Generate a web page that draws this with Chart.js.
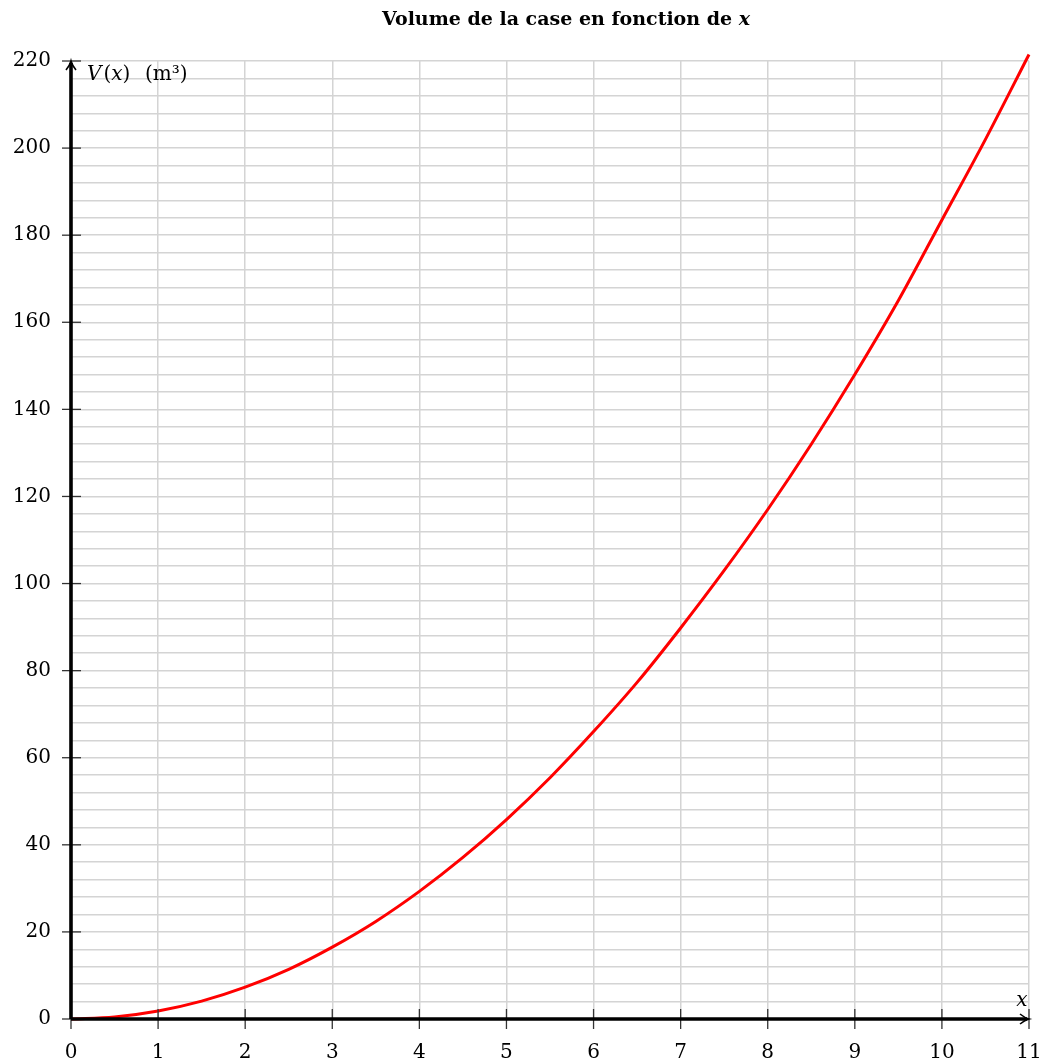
<!DOCTYPE html>
<html>
<head>
<meta charset="utf-8">
<script src="https://cdn.jsdelivr.net/npm/chart.js@4/dist/chart.umd.min.js"></script>
<style>
html,body{margin:0;padding:0;background:#fff;}
#wrap{width:1041px;height:1061px;position:relative;}
</style>
</head>
<body>
<div id="wrap"><canvas id="c" width="1041" height="1061"></canvas></div>
<script>
const xValues = [0, 0.5, 1, 1.5, 2, 2.5, 3, 3.5, 4, 4.5, 5, 5.5, 6, 6.5, 7, 7.5, 8, 8.5, 9, 9.5, 10, 10.5, 11];
const vValues = [0, 0.46, 1.83, 4.1, 7.3, 11.4, 16.5, 22.4, 29.3, 37.1, 45.8, 55.4, 66, 77.3, 89.8, 103, 117, 132, 148, 165, 183.5, 202, 221.5];
const xTicks = [0, 1, 2, 3, 4, 5, 6, 7, 8, 9, 10, 11];
const yTicks = [0, 20, 40, 60, 80, 100, 120, 140, 160, 180, 200, 220];
const titleText = "Volume de la case en fonction de ";
const titleVar = "x";
const yAxisVar = "V";
const yAxisArg = "(x)";
const yUnit = "(m³)";
const xAxisLabel = "x";

const SERIF = '"DejaVu Serif", "Liberation Serif", serif';

const axesPlugin = {
  id: 'axesPlugin',
  afterDatasetsDraw(chart) {
    const ctx = chart.ctx;
    const xs = chart.scales.x, ys = chart.scales.y;
    const x0 = xs.getPixelForValue(0), y0 = ys.getPixelForValue(0);
    const xEnd = xs.getPixelForValue(11), yEnd = ys.getPixelForValue(220);
    ctx.save();
    ctx.fillStyle = '#000';
    // tick marks
    ctx.lineWidth = 1.3;
    ctx.strokeStyle = '#333';
    xTicks.forEach(v => {
      const p = xs.getPixelForValue(v);
      ctx.beginPath(); ctx.moveTo(p, y0 - 10); ctx.lineTo(p, y0 + 10); ctx.stroke();
    });
    yTicks.forEach(v => {
      const p = ys.getPixelForValue(v);
      ctx.beginPath(); ctx.moveTo(x0 - 9, p); ctx.lineTo(x0 + 10, p); ctx.stroke();
    });
    // axes
    ctx.strokeStyle = '#000';
    ctx.lineWidth = 3.6;
    ctx.beginPath(); ctx.moveTo(x0, y0); ctx.lineTo(xEnd - 2, y0); ctx.stroke();
    ctx.beginPath(); ctx.moveTo(x0, y0); ctx.lineTo(x0, yEnd + 2); ctx.stroke();
    // arrows
    ctx.lineWidth = 1.6;
    ctx.beginPath();
    ctx.moveTo(xEnd - 9, y0 - 5); ctx.quadraticCurveTo(xEnd - 4, y0 - 1, xEnd, y0);
    ctx.quadraticCurveTo(xEnd - 4, y0 + 1, xEnd - 9, y0 + 5); ctx.stroke();
    ctx.beginPath();
    ctx.moveTo(x0 - 5, yEnd + 9); ctx.quadraticCurveTo(x0 - 1, yEnd + 4, x0, yEnd);
    ctx.quadraticCurveTo(x0 + 1, yEnd + 4, x0 + 5, yEnd + 9); ctx.stroke();
    // axis labels
    ctx.textBaseline = 'alphabetic';
    ctx.textAlign = 'left';
    ctx.font = 'italic 20px ' + SERIF;
    ctx.fillText(yAxisVar, x0 + 16, yEnd + 19);
    const wv = ctx.measureText(yAxisVar).width;
    ctx.font = '20px ' + SERIF;
    ctx.fillText('(', x0 + 18 + wv, yEnd + 19);
    const wp = ctx.measureText('(').width;
    ctx.font = 'italic 20px ' + SERIF;
    ctx.fillText('x', x0 + 18 + wv + wp, yEnd + 19);
    const wx = ctx.measureText('x').width;
    ctx.font = '20px ' + SERIF;
    ctx.fillText(')', x0 + 18 + wv + wp + wx, yEnd + 19);
    ctx.font = '20px ' + SERIF;
    ctx.fillText(yUnit, x0 + 74, yEnd + 19);
    ctx.font = 'italic 20px ' + SERIF;
    ctx.textAlign = 'center';
    ctx.fillText(xAxisLabel, xEnd - 7, y0 - 13);
    // title
    ctx.font = 'bold 19px ' + SERIF;
    ctx.textAlign = 'left';
    const w1 = ctx.measureText(titleText).width;
    ctx.font = 'bold italic 19px ' + SERIF;
    const w2 = ctx.measureText(titleVar).width;
    const start = 566 - (w1 + w2) / 2;
    ctx.font = 'bold 19px ' + SERIF;
    ctx.fillText(titleText, start, 25);
    ctx.font = 'bold italic 19px ' + SERIF;
    ctx.fillText(titleVar, start + w1, 25);
    ctx.restore();
  }
};

new Chart(document.getElementById('c'), {
  type: 'line',
  data: {
    datasets: [{
      data: xValues.map((x, i) => ({ x: x, y: vValues[i] })),
      borderColor: '#ff0000',
      borderWidth: 3,
      pointRadius: 0,
      cubicInterpolationMode: 'monotone',
      fill: false,
      clip: false
    }]
  },
  options: {
    responsive: false,
    animation: false,
    devicePixelRatio: 1,
    layout: { padding: { top: 61, right: 12, left: 0, bottom: 0 } },
    plugins: { legend: { display: false }, title: { display: false }, tooltip: { enabled: false } },
    scales: {
      x: {
        type: 'linear', min: 0, max: 11,
        afterFit(s) { s.height = 42; s.paddingLeft = 0; s.paddingRight = 0; },
        afterBuildTicks(s) { s.ticks = xTicks.map(v => ({ value: v })); },
        grid: { color: '#d4d4d4', lineWidth: 1.5, drawTicks: false },
        border: { display: false },
        ticks: { color: '#000', font: { family: SERIF, size: 20 }, padding: 22, autoSkip: false, maxRotation: 0 }
      },
      y: {
        type: 'linear', min: 0, max: 220,
        afterFit(s) { s.width = 71; s.paddingTop = 0; s.paddingBottom = 0; },
        afterBuildTicks(s) {
          const t = [];
          for (let v = 0; v <= 220; v += 4) t.push({ value: v });
          s.ticks = t;
        },
        grid: { color: '#d4d4d4', lineWidth: 1.5, drawTicks: false },
        border: { display: false },
        ticks: {
          color: '#000', font: { family: SERIF, size: 20 }, padding: 20, autoSkip: false,
          callback: v => (yTicks.includes(v) ? String(v) : '')
        }
      }
    }
  },
  plugins: [axesPlugin]
});
</script>
</body>
</html>
